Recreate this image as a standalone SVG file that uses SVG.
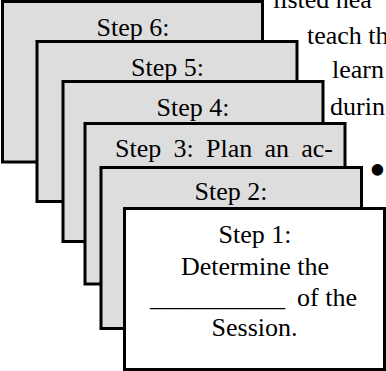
<svg xmlns="http://www.w3.org/2000/svg" width="386" height="371" viewBox="0 0 386 371">
  <style>
    .box { fill: #dddddd; stroke: #000000; stroke-width: 3; }
    .front { fill: #ffffff; stroke: #000000; stroke-width: 3; }
    text { font-family: 'Liberation Serif', 'DejaVu Serif', serif; font-size: 26px; fill: #000000; }
    .c { text-anchor: middle; }
    .bullet { font-size: 48px; }
  </style>
  <rect width="386" height="371" fill="#ffffff"/>
  <g id="background-text">
    <text x="273" y="8">listed hea</text>
    <text x="307" y="44">teach th</text>
    <text x="332" y="78">learn</text>
    <text x="330" y="115">durin</text>
    <text class="bullet" x="369" y="186">•</text>
  </g>
  <g id="connectors"/>
  <g id="step6">
    <rect class="box" x="2.5" y="1.5" width="260" height="160.5"/>
    <text class="c" x="133" y="36">Step 6:</text>
  </g>
  <g id="step5">
    <rect class="box" x="37" y="41.5" width="260" height="160"/>
    <text class="c" x="167.5" y="76">Step 5:</text>
  </g>
  <g id="step4">
    <rect class="box" x="63" y="81.5" width="260" height="160"/>
    <text class="c" x="193" y="116">Step 4:</text>
  </g>
  <g id="step3">
    <rect class="box" x="85" y="123.5" width="260" height="160.5"/>
    <text x="115" y="157" word-spacing="5.75">Step 3: Plan an ac-</text>
  </g>
  <g id="step2">
    <rect class="box" x="101" y="167.5" width="260.5" height="161"/>
    <text class="c" x="231" y="200">Step 2:</text>
  </g>
  <g id="step1">
    <rect class="front" x="124.5" y="208.5" width="260" height="161"/>
    <text class="c" x="255" y="243">Step 1:</text>
    <text class="c" x="255" y="275">Determine the</text>
    <text x="150" y="306" textLength="135" lengthAdjust="spacingAndGlyphs">__________</text>
    <text x="297" y="306">of the</text>
    <text class="c" x="254.5" y="336">Session.</text>
  </g>
</svg>
